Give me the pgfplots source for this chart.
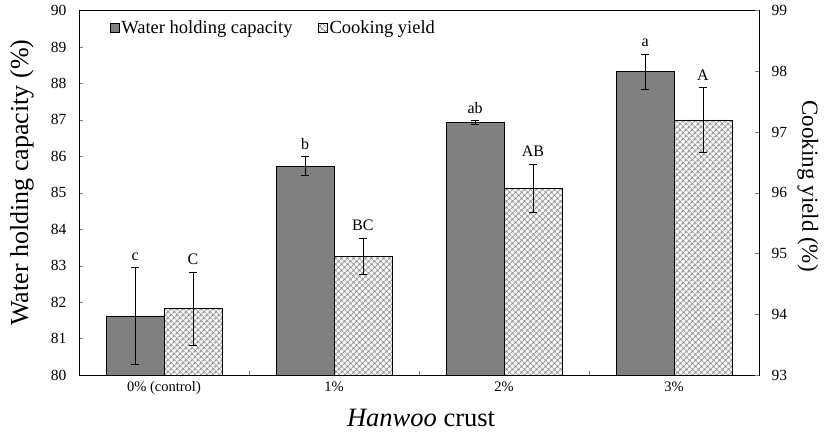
\documentclass[border=0pt]{standalone}
\usepackage{pgfplots}
\usepackage{pgfplotstable}
\pgfplotsset{compat=1.18}
\usepackage{fontspec}
\setmainfont{Liberation Serif}
\usetikzlibrary{patterns.meta}
\definecolor{barGray}{RGB}{128,128,128}
\definecolor{hatchGray}{RGB}{150,150,150}
\tikzset{cyfill/.style={pattern={Hatch[angle=45,distance=4pt,line width=1.1pt]}, pattern color=hatchGray}}

\pgfplotstableread{
x   y      err
0   81.62  1.33
1   85.73  0.26
2   86.93  0.05
3   88.32  0.48
}\whc
\pgfplotstableread{
x   y      err
0   94.09  0.60
1   94.95  0.30
2   96.07  0.40
3   97.20  0.53
}\cy

\begin{document}
\begin{tikzpicture}[x=1pt,y=1pt]
\useasboundingbox (-79pt,-61pt) rectangle (748pt,375pt);
\begin{axis}[
  at={(0pt,0pt)}, anchor=south west,
  scale only axis, width=680pt, height=364.5pt,
  xmin=-0.5, xmax=3.5, ymin=80, ymax=90,
  ytick={80,81,...,90},
  xtick={0,1,2,3},
  xticklabels={0\% (control),1\%,2\%,3\%},
  minor xtick={0.5,1.5,2.5},
  major x tick style={draw=none},
  minor tick length=4pt,
  major tick length=4pt,
  tick align=inside,
  xtick pos=bottom, ytick pos=left,
  /pgf/number format/assume math mode=true,
  yticklabel style={font=\fontsize{15.5}{16}\selectfont, xshift=-9pt},
  xticklabel style={font=\fontsize{14.5}{15}\selectfont, yshift=-3pt},
  ylabel={Water holding capacity (\%)},
  ylabel style={at={(axis description cs:-0.084,0.528)}, anchor=center, font=\fontsize{26}{28}\selectfont},
  xlabel={\textit{Hanwoo} crust},
  xlabel style={at={(axis description cs:0.503,-0.118)}, anchor=center, font=\fontsize{26.5}{28}\selectfont},
  axis line style={black, line width=0.8pt},
  legend style={at={(axis description cs:0.045,0.952)}, anchor=west, draw=none, fill=none,
    legend columns=2, font=\fontsize{18.5}{20}\selectfont, inner sep=0pt,
    /tikz/every even column/.append style={column sep=23pt}},
  legend cell align=left,
  clip=false,
]
\addplot[ybar, bar width=0.34, bar shift=-0.17, fill=barGray, draw=black, line width=0.6pt,
  legend image code/.code={\draw[fill=barGray, draw=black] (0pt,-4.5pt) rectangle (9pt,4.5pt);}]
  table[x=x, y=y] {\whc};
\addlegendentry{Water holding capacity}
\addlegendimage{legend image code/.code={\draw[cyfill, draw=black] (0pt,-4.5pt) rectangle (9pt,4.5pt);}}
\addlegendentry{Cooking yield}
\addplot[draw=none, mark=none, forget plot,
  error bars/.cd, y dir=both, y explicit,
  error bar style={black, line width=0.7pt},
  error mark options={rotate=90, mark size=4pt, black, line width=0.7pt}]
  table[x expr=\thisrow{x}-0.17, y=y, y error=err] {\whc};
\addplot[only marks, mark=none, forget plot, nodes near coords, point meta=explicit symbolic,
  nodes near coords style={anchor=south, inner sep=1pt, yshift=6pt, font=\fontsize{16}{17}\selectfont, black}]
  coordinates {(-0.17,82.95)[c] (0.83,85.99)[b] (1.83,86.98)[ab] (2.83,88.80)[a]};
\end{axis}
\begin{axis}[
  at={(0pt,0pt)}, anchor=south west,
  scale only axis, width=680pt, height=364.5pt,
  xmin=-0.5, xmax=3.5, ymin=93, ymax=99,
  ytick={93,94,...,99},
  axis y line*=right, axis x line=none,
  tick align=inside, major tick length=4pt,
  /pgf/number format/assume math mode=true,
  yticklabel style={font=\fontsize{15.5}{16}\selectfont, xshift=9pt},
  ylabel={Cooking yield (\%)},
  ylabel style={at={(axis description cs:1.072,0.518)}, anchor=center, rotate=180, font=\fontsize{23}{25}\selectfont},
  axis line style={black, line width=0.8pt},
  clip=false,
]
\addplot[ybar, bar width=0.34, bar shift=0.17, cyfill, draw=black, line width=0.6pt]
  table[x=x, y=y] {\cy};
\addplot[draw=none, mark=none,
  error bars/.cd, y dir=both, y explicit,
  error bar style={black, line width=0.7pt},
  error mark options={rotate=90, mark size=4pt, black, line width=0.7pt}]
  table[x expr=\thisrow{x}+0.17, y=y, y error=err] {\cy};
\addplot[only marks, mark=none, nodes near coords, point meta=explicit symbolic,
  nodes near coords style={anchor=south, inner sep=1pt, yshift=6pt, font=\fontsize{16}{17}\selectfont, black}]
  coordinates {(0.17,94.69)[C] (1.17,95.25)[BC] (2.17,96.47)[AB] (3.17,97.73)[A]};
\end{axis}
\end{tikzpicture}
\end{document}
